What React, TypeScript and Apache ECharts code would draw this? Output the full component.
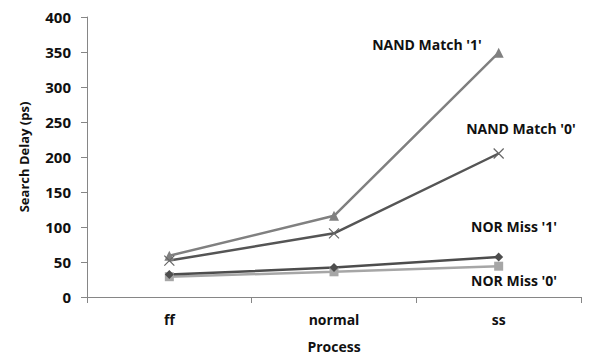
import React, { useEffect, useRef } from "react";
import * as echarts from "echarts";

const categories = ["ff", "normal", "ss"];
const nandMatch1 = [59, 116, 349];
const nandMatch0 = [52, 91, 205];
const norMiss1 = [32, 42, 57];
const norMiss0 = [29, 36, 44];
const seriesNames = ["NAND Match '1'", "NAND Match '0'", "NOR Miss '1'", "NOR Miss '0'"];

const FONT = "Open Sans";
const WEIGHT = "bold";

export default function App() {
  const ref = useRef<HTMLDivElement>(null);
  useEffect(() => {
    if (!ref.current) return;
    const chart = echarts.init(ref.current, undefined, { renderer: "svg" });
    const labelStyle = { fontFamily: FONT, fontWeight: WEIGHT, fontSize: 14, fill: "#111" };
    chart.setOption({
      animation: false,
      backgroundColor: "#fff",
      grid: { left: 87, right: 8, top: 17, bottom: 57, containLabel: false, outerBoundsMode: "none" },
      xAxis: {
        type: "category",
        data: categories,
        boundaryGap: true,
        name: "Process",
        nameLocation: "middle",
        nameGap: 42,
        nameTextStyle: { fontFamily: FONT, fontWeight: WEIGHT, fontSize: 14, color: "#111" },
        axisLine: { lineStyle: { color: "#868686", width: 1 } },
        axisTick: { show: true, length: 6, lineStyle: { color: "#868686" } },
        axisLabel: { fontFamily: FONT, fontWeight: WEIGHT, fontSize: 14, color: "#111", margin: 15 },
        splitLine: { show: false },
      },
      yAxis: {
        type: "value",
        min: 0,
        max: 400,
        interval: 50,
        name: "Search Delay (ps)",
        nameLocation: "middle",
        nameGap: 57,
        nameRotate: 90,
        nameTextStyle: { fontFamily: FONT, fontWeight: WEIGHT, fontSize: 13, color: "#111" },
        axisLine: { show: true, lineStyle: { color: "#868686", width: 1 } },
        axisTick: { show: true, length: 6, lineStyle: { color: "#868686" } },
        axisLabel: { fontFamily: FONT, fontWeight: WEIGHT, fontSize: 15, color: "#111", margin: 16 },
        splitLine: { show: false },
      },
      series: [
        {
          name: seriesNames[3],
          type: "line",
          data: norMiss0,
          symbol: "rect",
          symbolSize: 9,
          lineStyle: { color: "#a6a6a6", width: 2.5 },
          itemStyle: { color: "#a6a6a6" },
        },
        {
          name: seriesNames[2],
          type: "line",
          data: norMiss1,
          symbol: "diamond",
          symbolSize: 9,
          lineStyle: { color: "#4d4d4d", width: 2.5 },
          itemStyle: { color: "#4d4d4d" },
        },
        {
          name: seriesNames[0],
          type: "line",
          data: nandMatch1,
          symbol: "triangle",
          symbolSize: 10,
          lineStyle: { color: "#808080", width: 2.5 },
          itemStyle: { color: "#808080" },
        },
        {
          name: seriesNames[1],
          type: "line",
          data: nandMatch0,
          symbol: "path://M0,0L10,10M10,0L0,10",
          symbolSize: 10,
          lineStyle: { color: "#555555", width: 2.5 },
          itemStyle: { color: "none", borderColor: "#666666", borderWidth: 1.2 },
        },
      ],
      graphic: [
        { type: "text", x: 427, y: 44, style: { ...labelStyle, text: seriesNames[0], align: "center", verticalAlign: "middle" } },
        { type: "text", x: 521, y: 128, style: { ...labelStyle, text: seriesNames[1], align: "center", verticalAlign: "middle" } },
        { type: "text", x: 514, y: 226, style: { ...labelStyle, text: seriesNames[2], align: "center", verticalAlign: "middle" } },
        { type: "text", x: 514, y: 280, style: { ...labelStyle, text: seriesNames[3], align: "center", verticalAlign: "middle" } },
      ],
    });
    return () => chart.dispose();
  }, []);
  return <div ref={ref} style={{ width: 589, height: 354, position: "fixed", left: 0, top: 0 }} />;
}
